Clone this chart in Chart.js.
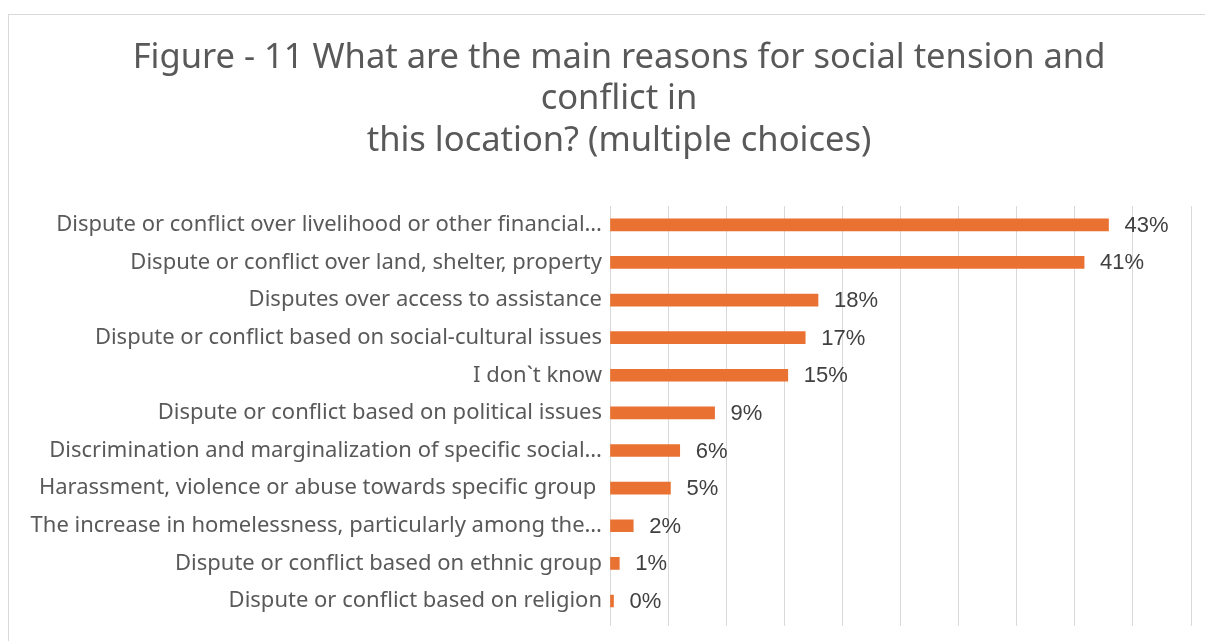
<!DOCTYPE html>
<html>
<head>
<meta charset="utf-8">
<script src="https://cdn.jsdelivr.net/npm/chart.js@4"></script>
<style>
  body { margin: 0; background: #fff; }
  #wrap { position: relative; width: 1205px; height: 641px; overflow: hidden; }
  #frame { position: absolute; left: 8px; top: 14px; width: 1220px; height: 640px; border: 1px solid #d9d9d9; box-sizing: border-box; }
  canvas { position: absolute; left: 0; top: 0; }
</style>
</head>
<body>
<div id="wrap">
  <div id="frame"></div>
  <canvas id="reasonsChart" width="1205" height="641"></canvas>
</div>
<script>
// survey answers, top to bottom
const reasons = [
  "Dispute or conflict over livelihood or other financial…",
  "Dispute or conflict over land, shelter, property",
  "Disputes over access to assistance",
  "Dispute or conflict based on social-cultural issues",
  "I don`t know",
  "Dispute or conflict based on political issues",
  "Discrimination and marginalization of specific social…",
  "Harassment, violence or abuse towards specific group ",
  "The increase in homelessness, particularly among the…",
  "Dispute or conflict based on ethnic group",
  "Dispute or conflict based on religion"
];
// share of respondents (%)
const shares = [42.9, 40.8, 17.9, 16.8, 15.3, 9.0, 6.0, 5.2, 2.0, 0.8, 0.3];
const titleLines = [
  "Figure - 11 What are the main reasons for social tension and",
  "conflict in",
  "this location? (multiple choices)"
];

// title drawn by hand so it can sit a little right of the canvas centre
const chartHeading = {
  id: "chartHeading",
  afterDraw(chart) {
    const ctx = chart.ctx;
    ctx.save();
    ctx.font = "34.5px 'Noto Sans', sans-serif";
    ctx.fillStyle = "#595959";
    ctx.textAlign = "center";
    ctx.textBaseline = "middle";
    titleLines.forEach((line, i) => {
      ctx.fillText(line, 619, 58 + i * 41.4);
    });
    ctx.restore();
  }
};

// percent labels at the end of each bar
const barValueLabels = {
  id: "barValueLabels",
  afterDatasetsDraw(chart) {
    const ctx = chart.ctx;
    const meta = chart.getDatasetMeta(0);
    ctx.save();
    ctx.font = "22px 'Liberation Sans', Arial, sans-serif";
    ctx.fillStyle = "#404040";
    ctx.textAlign = "left";
    ctx.textBaseline = "middle";
    meta.data.forEach((bar, i) => {
      ctx.fillText(Math.round(shares[i]) + "%", bar.x + 16, bar.y + 1);
    });
    ctx.restore();
  }
};

new Chart(document.getElementById("reasonsChart"), {
  type: "bar",
  data: {
    labels: reasons,
    datasets: [{
      data: shares,
      backgroundColor: "#e97132",
      barThickness: 12
    }]
  },
  options: {
    indexAxis: "y",
    responsive: false,
    animation: false,
    layout: { padding: { left: 0, right: 14, top: 206, bottom: 11 } },
    plugins: {
      legend: { display: false },
      tooltip: { enabled: false },
      title: { display: false }
    },
    scales: {
      x: {
        min: 0,
        max: 50,
        ticks: { display: false, stepSize: 5 },
        grid: { color: "#d9d9d9", drawTicks: true, tickLength: 6 },
        border: { display: false }
      },
      y: {
        afterFit: (scale) => { scale.width = 610; },
        grid: { display: false, drawTicks: false },
        border: { display: false },
        ticks: {
          color: "#595959",
          padding: 8,
          font: { family: "'Noto Sans', sans-serif", size: 22 }
        }
      }
    }
  },
  plugins: [barValueLabels, chartHeading]
});
</script>
</body>
</html>
